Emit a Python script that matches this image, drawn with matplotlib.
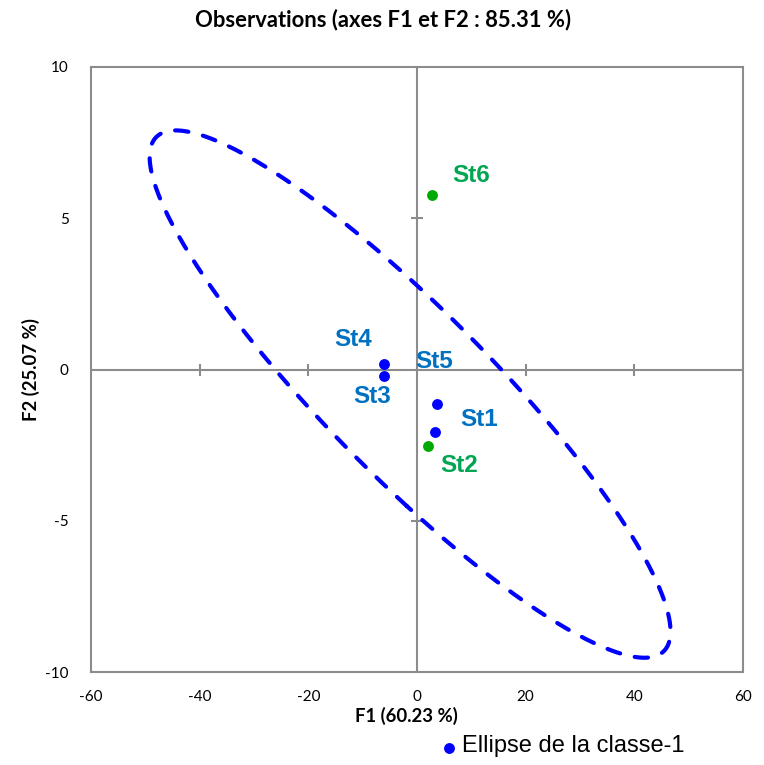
import numpy as np
import matplotlib
matplotlib.use("Agg")
import matplotlib.pyplot as plt

plt.rcParams["axes.unicode_minus"] = False

# Observations on the first factorial plane
stations = ["St1", "St2", "St3", "St4", "St5", "St6"]
f1 = [3.23, 1.99, -5.99, -5.99, 3.65, 2.73]
f2 = [-2.05, -2.52, -0.23, 0.17, -1.14, 5.78]
classes = [1, 2, 1, 1, 1, 2]

# label offsets in pixels (dx, dy) from each point
label_offsets = {"St1": (45, 12), "St2": (31, -20), "St3": (-12, -20),
                 "St4": (-31, 25), "St5": (-3, 42), "St6": (39, 19)}

point_colors = {1: "#0000FF", 2: "#00AA00"}
label_colors = {1: "#0070C0", 2: "#00A651"}

x_ticks = [-60, -40, -20, 0, 20, 40, 60]
y_ticks = [-10, -5, 0, 5, 10]
ellipse_scale = 8.8

W, H = 764, 765
fig = plt.figure(figsize=(W / 100, H / 100), dpi=100)
ax = fig.add_axes([91 / W, 1 - 672 / H, (743 - 91) / W, (672 - 67) / H])

ax.set_xlim(-60, 60)
ax.set_ylim(-10, 10)
ax.set_xticks(x_ticks)
ax.set_yticks(y_ticks)
ax.tick_params(length=0, labelsize=11, colors="black")
ax.tick_params(axis="x", pad=13)
ax.tick_params(axis="y", pad=16)
for lab in ax.get_xticklabels() + ax.get_yticklabels():
    lab.set_family("Lato")
for sp in ax.spines.values():
    sp.set_color("#8C8C8C")
    sp.set_linewidth(1.5)

# zero axes with small cross ticks
ax.axhline(0, color="#8C8C8C", lw=1.5, zorder=1)
ax.axvline(0, color="#8C8C8C", lw=1.5, zorder=1)
hx = [t for t in x_ticks if t not in (0, -60, 60)]
vy = [t for t in y_ticks if t not in (0, -10, 10)]
ax.plot(hx, [0] * len(hx), ls="none", marker="|", ms=8, mew=1.5, color="#8C8C8C", zorder=1)
ax.plot([0] * len(vy), vy, ls="none", marker="_", ms=8, mew=1.5, color="#8C8C8C", zorder=1)

# confidence ellipse of class 1
px = np.array([x for x, c in zip(f1, classes) if c == 1])
py = np.array([y for y, c in zip(f2, classes) if c == 1])
cov = np.cov(px, py)
vals, vecs = np.linalg.eigh(cov)
t = np.linspace(0, 2 * np.pi, 400)
circle = np.vstack([np.cos(t), np.sin(t)])
pts = vecs @ (np.sqrt(vals)[:, None] * circle) * ellipse_scale
ex = px.mean() + pts[0]
ey = py.mean() + pts[1]
ax.plot(ex, ey, color="#0000FF", lw=3, dashes=(3.2, 3.6),
        dash_capstyle="round", solid_capstyle="round", zorder=2)

# points and labels
for name, x, y, c in zip(stations, f1, f2, classes):
    ax.plot(x, y, "o", ms=6.8, color=point_colors[c], zorder=3)
    dx, dy = label_offsets[name]
    ax.annotate(name, (x, y), xytext=(dx, dy), textcoords="offset pixels",
                ha="center", va="center", fontsize=17.5, fontweight="bold",
                family="Liberation Sans", color=label_colors[c], zorder=4)

fig.text(383 / W, 1 - 20 / H, "Observations (axes F1 et F2 : 85.31 %)",
         ha="center", va="center", fontsize=15.8, fontweight="bold", family="Lato")
fig.text(406 / W, 1 - 716 / H, "F1 (60.23 %)", ha="center", va="center",
         fontsize=13.3, fontweight="bold", family="Lato")
fig.text(31 / W, 1 - 370 / H, "F2 (25.07 %)", ha="center", va="center",
         rotation=90, fontsize=13.3, fontweight="bold", family="Lato")

# legend
fig.lines.append(plt.Line2D([449 / W], [1 - 748 / H], marker="o", ms=6.8,
                            color="#0000FF", ls="none", transform=fig.transFigure))
fig.text(462 / W, 1 - 746 / H, "Ellipse de la classe-1", ha="left", va="center",
         fontsize=17, family="Liberation Sans")

fig.savefig("out.png", dpi=100)
